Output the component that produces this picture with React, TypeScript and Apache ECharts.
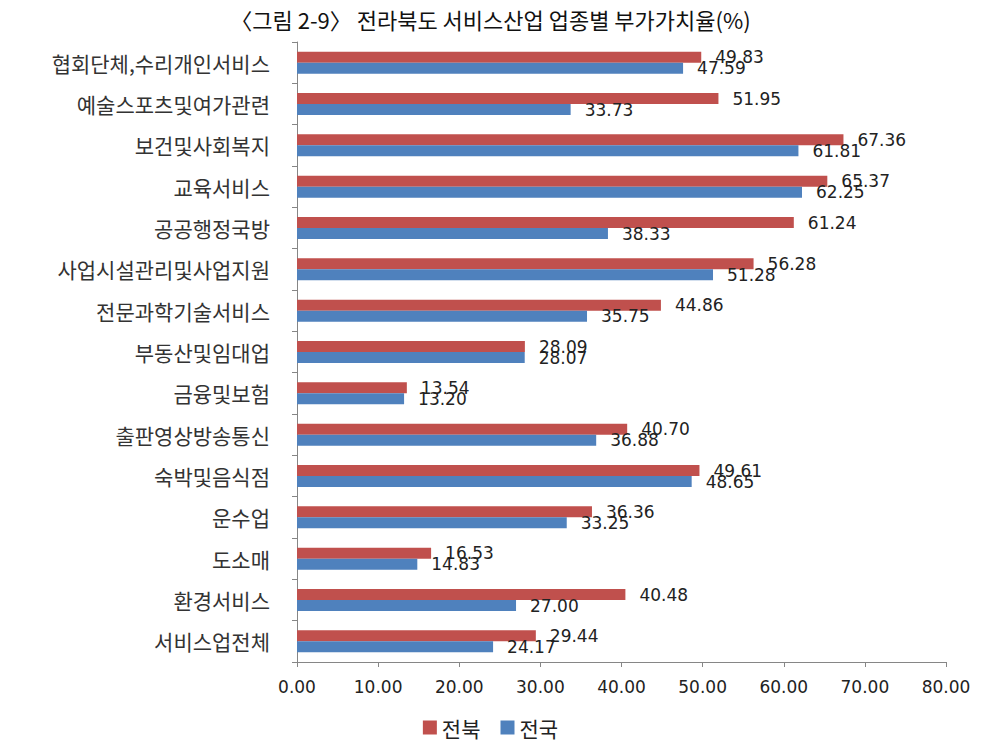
import React, { useEffect, useRef } from "react";
import * as echarts from "echarts";

const categories = [
  "협회단체,수리개인서비스",
  "예술스포츠및여가관련",
  "보건및사회복지",
  "교육서비스",
  "공공행정국방",
  "사업시설관리및사업지원",
  "전문과학기술서비스",
  "부동산및임대업",
  "금융및보험",
  "출판영상방송통신",
  "숙박및음식점",
  "운수업",
  "도소매",
  "환경서비스",
  "서비스업전체",
];
const jeonbuk = [49.83, 51.95, 67.36, 65.37, 61.24, 56.28, 44.86, 28.09, 13.54, 40.7, 49.61, 36.36, 16.53, 40.48, 29.44];
const national = [47.59, 33.73, 61.81, 62.25, 38.33, 51.28, 35.75, 28.07, 13.2, 36.88, 48.65, 33.25, 14.83, 27.0, 24.17];
const title = "〈그림 2-9〉 전라북도 서비스산업 업종별 부가가치율(%)";

const KR = "'Noto Sans CJK KR', sans-serif";
const NUM = "'DejaVu Sans', sans-serif";

export default function App() {
  const ref = useRef<HTMLDivElement>(null);
  useEffect(() => {
    if (!ref.current) return;
    const chart = echarts.init(ref.current, null, { renderer: "svg" });
    const label = {
      show: true,
      position: "right",
      distance: 14,
      color: "#222",
      fontFamily: NUM,
      fontSize: 17,
      formatter: (p: any) => Number(p.value).toFixed(2),
    };
    chart.setOption({
      animation: false,
      title: {
        text: title,
        left: "center",
        top: 3,
        textStyle: { fontFamily: KR, fontSize: 22, fontWeight: "normal", color: "#111" },
      },
      legend: {
        data: ["전북", "전국"],
        bottom: 2,
        left: "center",
        itemWidth: 14,
        itemHeight: 14,
        itemGap: 20,
        icon: "rect",
        textStyle: { fontFamily: KR, fontSize: 21, color: "#222" },
      },
      grid: { left: 297, right: 35, top: 42, bottom: 83, containLabel: false },
      xAxis: {
        type: "value",
        min: 0,
        max: 80,
        interval: 10,
        splitLine: { show: false },
        axisLine: { show: true, lineStyle: { color: "#868686" } },
        axisTick: { show: true, length: 5, lineStyle: { color: "#868686" } },
        axisLabel: {
          margin: 16,
          fontFamily: NUM,
          fontSize: 17,
          color: "#222",
          formatter: (v: number) => v.toFixed(2),
        },
      },
      yAxis: {
        type: "category",
        data: categories,
        inverse: true,
        axisLine: { show: true, lineStyle: { color: "#868686" } },
        axisTick: { show: true, length: 5, lineStyle: { color: "#868686" } },
        axisLabel: { margin: 27, fontFamily: KR, fontSize: 21, color: "#333" },
      },
      series: [
        {
          name: "전북",
          type: "bar",
          data: jeonbuk,
          barWidth: 11,
          barGap: "0%",
          itemStyle: { color: "#C0504D" },
          label,
        },
        {
          name: "전국",
          type: "bar",
          data: national,
          barWidth: 11,
          barGap: "0%",
          itemStyle: { color: "#4F81BD" },
          label,
        },
      ],
    });
    return () => chart.dispose();
  }, []);
  return <div ref={ref} style={{ width: 981, height: 745, position: "absolute", left: 0, top: 0 }} />;
}
